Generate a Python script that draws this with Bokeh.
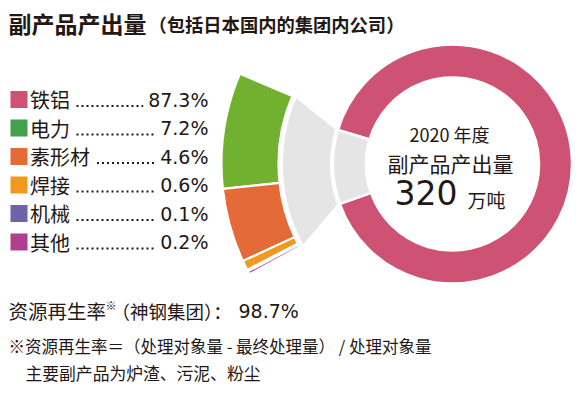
import math
from bokeh.plotting import figure
from bokeh.models import Range1d
from bokeh.core.properties import value
from bokeh.embed import file_html
from bokeh.resources import INLINE

# ---------------- data ----------------
categories = ["铁铝", "电力", "素形材", "焊接", "机械", "其他"]
shares = [87.3, 7.2, 4.6, 0.6, 0.1, 0.2]
share_labels = ["87.3%", "7.2%", "4.6%", "0.6%", "0.1%", "0.2%"]
legend_colors = ["#CD5274", "#44A04F", "#E46B38", "#EF9A1C", "#6E63A5", "#B0408E"]
fan_colors = ["#72B12F", "#E46B38", "#EF9A1C", "#6E63A5", "#B0408E"]
year_label = "2020 年度"
total_label = "副产品产出量"
total_value = "320"
total_unit = "万吨"
title_main = "副产品产出量"
title_sub = "（包括日本国内的集团内公司）"
recycle_label = "资源再生率"
recycle_group = "（神钢集团）："
recycle_value = "98.7%"
note1 = "※资源再生率＝（处理对象量 - 最终处理量） / 处理对象量"
note2 = "主要副产品为炉渣、污泥、粉尘"

INK = "#231815"
CJK = value("Noto Sans CJK SC")
NUM = value("DejaVu Sans")

W, H = 577, 387
p = figure(width=W, height=H, output_backend="svg", toolbar_location=None,
           x_range=Range1d(0, W), y_range=Range1d(395 - H, 395),
           min_border=0, outline_line_color=None)
p.axis.visible = False
p.grid.visible = False
p.background_fill_color = "white"


def Y(py):
    return 395 - py


R = math.radians

# ---------------- donut geometry ----------------
cx, cy = 452, Y(163.5)
r_in, r_out = 86.5, 119.5
gap_top, gap_bot = 163.5, 199.5          # grey window in the ring (deg)
fan_r_in, fan_r_out = 174, 231
fan_start = 157.0
fan_span = 51.5
deg_per_pct = fan_span / sum(shares[1:])

# pink ring (铁铝)
p.annular_wedge(x=cx, y=cy, inner_radius=r_in, outer_radius=r_out,
                start_angle=R(gap_bot), end_angle=R(gap_top + 360),
                fill_color=legend_colors[0], line_color="white", line_width=2.5)
# grey window in the ring
p.annular_wedge(x=cx, y=cy, inner_radius=r_in, outer_radius=r_out,
                start_angle=R(gap_top), end_angle=R(gap_bot),
                fill_color="#E5E5E5", line_color="white", line_width=2.5)

# grey funnel connecting ring window to the fan
fan_end = fan_start + fan_span
xs, ys = [], []
n = 40
for i in range(n + 1):
    a = R(fan_start + (fan_end - fan_start) * i / n)
    xs.append(cx + 170 * math.cos(a)); ys.append(cy + 170 * math.sin(a))
for i in range(n + 1):
    a = R(gap_bot + (gap_top - gap_bot) * i / n)
    xs.append(cx + 122 * math.cos(a)); ys.append(cy + 122 * math.sin(a))
p.patch(xs, ys, fill_color="#E5E5E5", line_color="white", line_width=1)

# fan of the remaining categories
starts, ends = [], []
a = fan_start
for s in shares[1:]:
    starts.append(R(a))
    a += s * deg_per_pct
    ends.append(R(a))
p.annular_wedge(x=cx, y=cy, inner_radius=fan_r_in, outer_radius=fan_r_out,
                start_angle=starts, end_angle=ends,
                fill_color=fan_colors, line_color="white", line_width=2.2)

# ---------------- centre text ----------------
p.text(x=[449], y=[Y(133)], text=[year_label], text_font=CJK, text_font_size="18px",
       text_align="center", text_baseline="middle", text_color=INK)
p.text(x=[450], y=[Y(162)], text=[total_label], text_font=CJK, text_font_size="21px",
       text_align="center", text_baseline="middle", text_color=INK)
p.text(x=[394], y=[Y(192)], text=[total_value], text_font=NUM, text_font_size="33px",
       text_align="left", text_baseline="middle", text_color=INK)
p.text(x=[467], y=[Y(199)], text=[total_unit], text_font=CJK, text_font_size="19px",
       text_align="left", text_baseline="middle", text_color=INK)

# ---------------- legend ----------------
row_y = [99, 127.5, 156, 184.5, 213, 241.5]
p.rect(x=[18.5] * 6, y=[Y(v) for v in row_y], width=17, height=17,
       fill_color=legend_colors, line_color=None)
p.text(x=[29.5] * 6, y=[Y(v) for v in row_y], text=categories, text_font=CJK,
       text_font_size="20px", text_align="left", text_baseline="middle", text_color=INK)
p.text(x=[208] * 6, y=[Y(v) for v in row_y], text=share_labels, text_font=NUM,
       text_font_size="19px", text_align="right", text_baseline="middle", text_color=INK)
x0s, x1s, ys_ = [], [], []
for cat, lab, yy in zip(categories, share_labels, row_y):
    x0s.append(30 + 20.5 * len(cat) + 5)
    ndig = sum(ch.isdigit() for ch in lab)
    x1s.append(207 - (12.1 * ndig + 24) - 4)
    ys_.append(Y(yy + 6.5))
p.segment(x0=x0s, y0=ys_, x1=x1s, y1=ys_, line_color=INK, line_width=2,
          line_dash="2 3")

# ---------------- title ----------------
p.text(x=[8], y=[Y(22)], text=[title_main], text_font=CJK, text_font_size="23px",
       text_font_style="bold", text_align="left", text_baseline="middle", text_color=INK)
p.text(x=[148], y=[Y(23)], text=[title_sub], text_font=CJK, text_font_size="18.3px",
       text_font_style="bold", text_align="left", text_baseline="middle", text_color=INK)

# ---------------- bottom notes ----------------
p.text(x=[8], y=[Y(310)], text=[recycle_label], text_font=CJK, text_font_size="19.5px",
       text_align="left", text_baseline="middle", text_color=INK)
p.text(x=[105], y=[Y(304)], text=["※"], text_font=CJK, text_font_size="11px",
       text_align="left", text_baseline="middle", text_color=INK)
p.text(x=[111], y=[Y(310)], text=[recycle_group], text_font=CJK, text_font_size="18.5px",
       text_align="left", text_baseline="middle", text_color=INK)
p.text(x=[238], y=[Y(310)], text=[recycle_value], text_font=NUM, text_font_size="19px",
       text_align="left", text_baseline="middle", text_color=INK)
p.text(x=[8], y=[Y(345)], text=[note1], text_font=CJK, text_font_size="16.5px",
       text_align="left", text_baseline="middle", text_color=INK)
p.text(x=[25], y=[Y(372)], text=[note2], text_font=CJK, text_font_size="16.8px",
       text_align="left", text_baseline="middle", text_color=INK)

open("out.html", "w").write(file_html(p, INLINE))
